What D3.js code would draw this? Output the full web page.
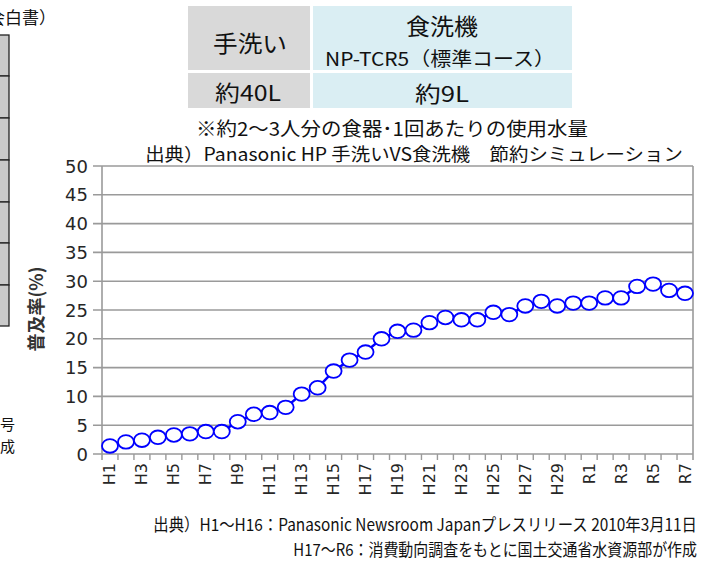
<!DOCTYPE html>
<html>
<head>
<meta charset="utf-8">
<script src="https://cdn.jsdelivr.net/npm/d3@7"></script>
<style>
  body { margin: 0; background: #fff; }
  svg { display: block; }
</style>
</head>
<body>
<div id="root"></div>
<script>
// data
const years = ["H1","H2","H3","H4","H5","H6","H7","H8","H9","H10",
  "H11","H12","H13","H14","H15","H16","H17","H18","H19","H20",
  "H21","H22","H23","H24","H25","H26","H27","H28","H29","H30",
  "R1","R2","R3","R4","R5","R6","R7"]
const rates = [1.4, 2.1, 2.4, 2.9, 3.3, 3.5, 3.9, 3.9, 5.6, 6.9,
  7.2, 8.1, 10.4, 11.5, 14.4, 16.3, 17.7, 20.0, 21.3, 21.5,
  22.8, 23.7, 23.3, 23.3, 24.6, 24.2, 25.7, 26.5, 25.7, 26.2,
  26.2, 27.1, 27.1, 29.1, 29.5, 28.4, 27.9]
const yTicks = [0, 5, 10, 15, 20, 25, 30, 35, 40, 45, 50]

const tableHead = ["手洗い", "食洗機", "NP-TCR5（標準コース）"]
const tableVals = ["約40L", "約9L"]

const w = 709, h = 562
const JP = '"Noto Sans CJK JP", "Noto Sans", sans-serif'
const NUM = '"DejaVu Sans", Verdana, sans-serif'

const svg = d3.select("#root").append("svg")
    .attr("width", w)
    .attr("height", h)

// scales
const x = d3.scaleBand().domain(years).range([102, 693])
const y = d3.scaleLinear().domain([0, 50]).range([454, 166])

// squeeze a text horizontally so it spans len px
function fitText(sel, tx, ty, len) {
    const nat = sel.node().getComputedTextLength()
    const k = Math.min(1.3, len / nat)
    sel.attr("transform", `translate(${tx},${ty}) scale(${k},1)`)
}

// left cut-off panel (neighbouring figure)
svg.append("text")
    .attr("font-family", JP)
    .attr("x", 56).attr("y", 24)
    .attr("text-anchor", "end").attr("font-size", 17).attr("fill", "#111")
    .text("（循環型社会白書）")
const leftRows = [35, 76, 118, 160, 202, 243, 285, 326]
leftRows.slice(0, -1).forEach((r, i) => {
    svg.append("rect")
        .attr("x", -20).attr("y", r)
        .attr("width", 29).attr("height", leftRows[i+1] - r)
        .attr("fill", "#c9c9c9").attr("stroke", "#222").attr("stroke-width", 1.3)
})
svg.append("text")
    .attr("font-family", JP)
    .attr("x", 15).attr("y", 423).attr("text-anchor", "end").attr("dominant-baseline", "central")
    .attr("font-size", 15).attr("fill", "#111")
    .text("号")
svg.append("text")
    .attr("font-family", JP)
    .attr("x", 15).attr("y", 445).attr("text-anchor", "end").attr("dominant-baseline", "central")
    .attr("font-size", 15).attr("fill", "#111")
    .text("成")

// top table
const grey = "#d9d9d9", blue = "#daeef3"
svg.append("rect").attr("x", 188).attr("y", 6).attr("width", 122).attr("height", 64).attr("fill", grey)
svg.append("rect").attr("x", 313).attr("y", 6).attr("width", 259).attr("height", 64).attr("fill", blue)
svg.append("rect").attr("x", 188).attr("y", 73).attr("width", 122).attr("height", 35).attr("fill", grey)
svg.append("rect").attr("x", 313).attr("y", 73).attr("width", 259).attr("height", 35).attr("fill", blue)

const tcell = (tx, ty, s, size, len) => {
    const t = svg.append("text")
        .attr("font-family", JP)
        .attr("text-anchor", "middle").attr("dominant-baseline", "central")
        .attr("font-size", size).attr("fill", "#111")
        .text(s)
    fitText(t, tx, ty, len)
}
tcell(250, 42, tableHead[0], 23, 74)
tcell(442, 25, tableHead[1], 23, 72)
tcell(440, 58, tableHead[2], 19, 230)
tcell(248, 92, tableVals[0], 22, 66)
tcell(442, 92, tableVals[1], 22, 54)

tcell(392, 128, "※約2～3人分の食器･1回あたりの使用水量", 19, 392)
tcell(414, 153, "出典）Panasonic HP 手洗いVS食洗機　節約シミュレーション", 18, 538)

// gridlines
svg.append("g").selectAll("line.grid").data(yTicks).enter().append("line")
    .attr("class", "grid")
    .attr("x1", 93).attr("x2", 693)
    .attr("y1", d => y(d)).attr("y2", d => y(d))
    .attr("stroke", "#9a9a9a").attr("stroke-width", 1.6)

// axis lines
svg.append("line").attr("x1", 102).attr("x2", 102).attr("y1", y(50)).attr("y2", y(0) + 6)
    .attr("stroke", "#9a9a9a").attr("stroke-width", 1.6)
svg.append("line").attr("x1", 693).attr("x2", 693).attr("y1", y(50)).attr("y2", y(0) + 6)
    .attr("stroke", "#9a9a9a").attr("stroke-width", 1.6)
svg.append("g").selectAll("line.xt").data(years.slice(1)).enter().append("line")
    .attr("class", "xt")
    .attr("x1", d => x(d)).attr("x2", d => x(d))
    .attr("y1", y(0)).attr("y2", y(0) + 6)
    .attr("stroke", "#9a9a9a").attr("stroke-width", 1.4)

// y labels
svg.append("g").selectAll("text.yl").data(yTicks).enter().append("text")
    .attr("class", "yl")
    .attr("font-family", NUM)
    .attr("x", 88).attr("y", d => y(d))
    .attr("text-anchor", "end").attr("dominant-baseline", "central")
    .attr("font-size", 18).attr("fill", "#262626")
    .text(d => d)

// x labels
svg.append("g").selectAll("text.xl").data(years.filter((d, i) => i % 2 == 0)).enter().append("text")
    .attr("class", "xl")
    .attr("font-family", NUM)
    .attr("transform", d => `translate(${x(d) + x.bandwidth() / 2},463) rotate(-90)`)
    .attr("text-anchor", "end").attr("dominant-baseline", "central")
    .attr("font-size", 16).attr("fill", "#262626")
    .text(d => d)

// y title
svg.append("text")
    .attr("font-family", JP)
    .attr("transform", "translate(35,309) rotate(-90)")
    .attr("text-anchor", "middle").attr("dominant-baseline", "central")
    .attr("font-size", 18).attr("font-weight", "bold").attr("fill", "#333")
    .text("普及率(%)")

// line + markers
const pts = years.map((d, i) => ({ year: d, value: rates[i] }))
const line = d3.line()
    .x(d => x(d.year) + x.bandwidth() / 2)
    .y(d => y(d.value))
svg.append("path").datum(pts)
    .attr("d", line)
    .attr("fill", "none").attr("stroke", "#0000ff").attr("stroke-width", 2.5)
svg.append("g").selectAll("ellipse").data(pts).enter().append("ellipse")
    .attr("cx", d => x(d.year) + x.bandwidth() / 2)
    .attr("cy", d => y(d.value))
    .attr("rx", 8).attr("ry", 6.8)
    .attr("fill", "#fff").attr("stroke", "#0000ff").attr("stroke-width", 1.8)

// bottom source
const src = (ty, s, len) => {
    const t = svg.append("text")
        .attr("font-family", JP)
        .attr("text-anchor", "end").attr("dominant-baseline", "central")
        .attr("font-size", 17).attr("fill", "#111")
        .text(s)
    fitText(t, 697, ty, len)
}
src(524, "出典）H1～H16：Panasonic Newsroom Japanプレスリリース 2010年3月11日", 544)
src(549, "H17～R6：消費動向調査をもとに国土交通省水資源部が作成", 404)
</script>
</body>
</html>
